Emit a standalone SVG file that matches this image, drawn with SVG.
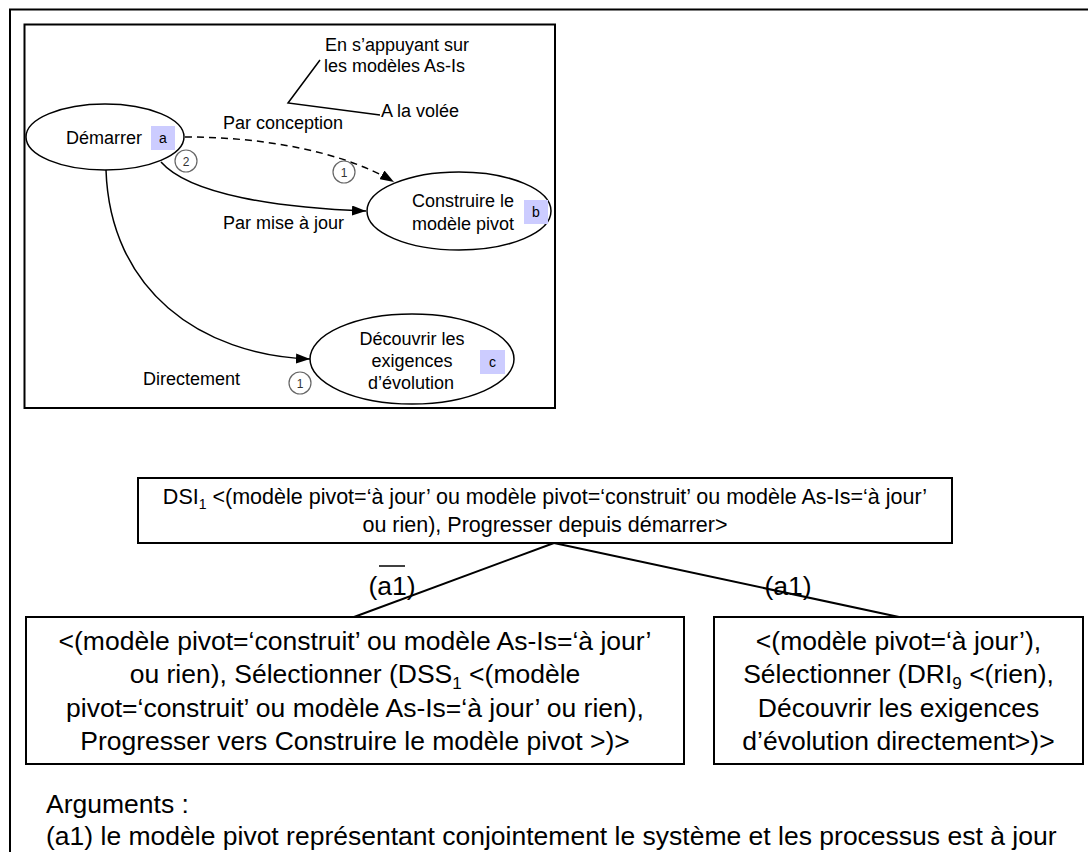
<svg xmlns="http://www.w3.org/2000/svg" width="1088" height="852" viewBox="0 0 1088 852">
<style>
text{font-family:"Liberation Sans",Arial,sans-serif;fill:#000}
.t{font-size:18px}
.lb{font-size:14px}
.n{font-size:12px;fill:#333}
.mid{font-size:21.5px}
.big{font-size:26.5px}
.c{text-anchor:middle}
.box{fill:#fff;stroke:#000;stroke-width:2}
.ell{fill:#fff;stroke:#000;stroke-width:1.5}
.tag{fill:#ccccff}
.num{fill:#fff;stroke:#666;stroke-width:1.2}
.edge{fill:none;stroke:#000;stroke-width:1.5}
.tree{stroke:#000;stroke-width:2}
</style>
<defs>
<marker id="ah" viewBox="0 0 14 10" refX="14" refY="5" markerWidth="14" markerHeight="10" markerUnits="userSpaceOnUse" orient="auto">
<path d="M0,0 L14,5 L0,10 Z" fill="#000"/>
</marker>
</defs>
<rect x="0" y="0" width="1088" height="852" fill="#fff"/>
<g id="frame">
<path d="M10,852 V9.5 H1088" fill="none" stroke="#000" stroke-width="2"/>
<rect x="24.5" y="24.5" width="530.5" height="383.5" fill="none" stroke="#000" stroke-width="2"/>
</g>
<g id="connectors">
<path class="edge" d="M185,137 C260,137 340,150 394,182" stroke-dasharray="7,5" marker-end="url(#ah)"/>
<path class="edge" d="M161,162 C190,195 280,208 366,211" marker-end="url(#ah)"/>
<path class="edge" d="M106,170 C110,290 200,355 310,359" marker-end="url(#ah)"/>
<polyline points="320,60 288,103 380,115" fill="none" stroke="#000" stroke-width="1.5"/>
<line class="tree" x1="554" y1="543" x2="354" y2="617"/>
<line class="tree" x1="554" y1="543" x2="899" y2="617"/>
</g>
<g id="labels">
<text class="t" x="325" y="51">En s’appuyant sur</text>
<text class="t" x="324" y="72">les modèles As-Is</text>
<text class="t" x="381" y="117">A la volée</text>
<text class="t" x="223" y="129">Par conception</text>
<text class="t" x="223" y="229">Par mise à jour</text>
<text class="t" x="143" y="385">Directement</text>
<g id="n2"><circle class="num" cx="186" cy="161" r="11"/><text class="n c" x="186" y="165.5">2</text></g>
<g id="n1a"><circle class="num" cx="344" cy="172" r="11"/><text class="n c" x="344" y="176.5">1</text></g>
<g id="n1b"><circle class="num" cx="300" cy="383" r="11"/><text class="n c" x="300" y="387.5">1</text></g>
</g>
<g id="demarrer">
<ellipse class="ell" cx="105" cy="137" rx="79" ry="33"/>
<text class="t" x="66" y="144">Démarrer</text>
<rect class="tag" x="151" y="126" width="24" height="24"/>
<text class="lb c" x="163" y="143">a</text>
</g>
<g id="construire">
<ellipse class="ell" cx="459" cy="211" rx="92" ry="39"/>
<text class="t c" x="463" y="207">Construire le</text>
<text class="t c" x="463" y="230">modèle pivot</text>
<rect class="tag" x="524" y="200" width="24" height="24"/>
<text class="lb c" x="536" y="217">b</text>
</g>
<g id="decouvrir">
<ellipse class="ell" cx="412" cy="359" rx="102" ry="45"/>
<text class="t c" x="412" y="345">Découvrir les</text>
<text class="t c" x="412" y="367">exigences</text>
<text class="t c" x="411" y="389">d’évolution</text>
<rect class="tag" x="480" y="350" width="25" height="24"/>
<text class="lb c" x="492.5" y="367">c</text>
</g>
<g id="dsi1">
<rect class="box" x="138" y="478" width="814" height="65"/>
<text class="mid c" x="545" y="504">DSI<tspan font-size="14" dy="5">1</tspan><tspan dy="-5"> &lt;(modèle pivot=‘à jour’ ou modèle pivot=‘construit’ ou modèle As-Is=‘à jour’</tspan></text>
<text class="mid c" x="545" y="532">ou rien), Progresser depuis démarrer&gt;</text>
</g>
<g id="arglabels">
<text class="big c" x="392" y="595">(a1)</text>
<line x1="379" y1="566" x2="405" y2="566" stroke="#000" stroke-width="1.5"/>
<text class="big c" x="788" y="595">(a1)</text>
</g>
<g id="dss1">
<rect class="box" x="26" y="617" width="658" height="147"/>
<text class="big c" x="355" y="650">&lt;(modèle pivot=‘construit’ ou modèle As-Is=‘à jour’</text>
<text class="big c" x="355" y="683">ou rien), Sélectionner (DSS<tspan font-size="17" dy="6">1</tspan><tspan dy="-6"> &lt;(modèle</tspan></text>
<text class="big c" x="355" y="716.5">pivot=‘construit’ ou modèle As-Is=‘à jour’ ou rien),</text>
<text class="big c" x="355" y="750">Progresser vers Construire le modèle pivot &gt;)&gt;</text>
</g>
<g id="dri9">
<rect class="box" x="714" y="617" width="369" height="147"/>
<text class="big c" x="898.5" y="650">&lt;(modèle pivot=‘à jour’),</text>
<text class="big c" x="898.5" y="683">Sélectionner (DRI<tspan font-size="17" dy="6">9</tspan><tspan dy="-6"> &lt;(rien),</tspan></text>
<text class="big c" x="898.5" y="716.5">Découvrir les exigences</text>
<text class="big c" x="898.5" y="750">d’évolution directement&gt;)&gt;</text>
</g>
<g id="arguments">
<text class="big" x="46" y="813">Arguments :</text>
<text class="big" x="46" y="845">(a1) le modèle pivot représentant conjointement le système et les processus est à jour</text>
</g>
</svg>
